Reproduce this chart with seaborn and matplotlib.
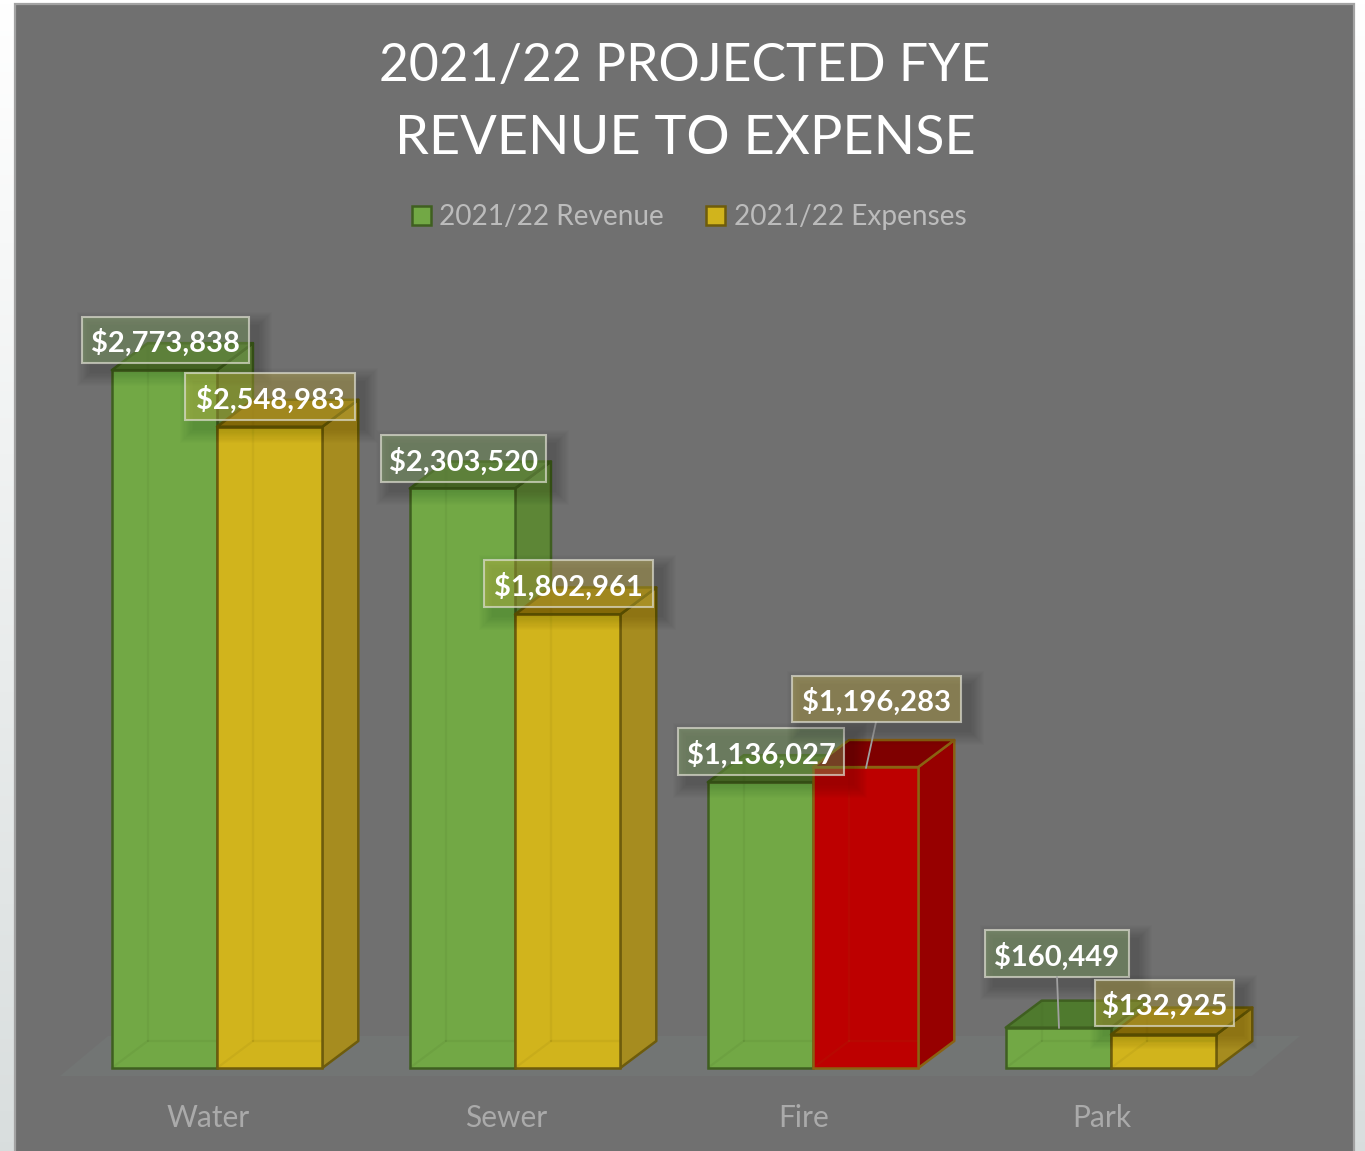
import numpy as np
import pandas as pd
import seaborn as sns
import matplotlib
matplotlib.use("Agg")
import matplotlib.pyplot as plt
from matplotlib.patches import Polygon, Rectangle, Patch
from matplotlib.lines import Line2D
from matplotlib.transforms import Affine2D, ScaledTranslation

departments = ["Water", "Sewer", "Fire", "Park"]
revenue = [2773838, 2303520, 1136027, 160449]
expenses = [2548983, 1802961, 1196283, 132925]
series_names = ["2021/22 Revenue", "2021/22 Expenses"]
title_lines = ["2021/22 PROJECTED FYE", "REVENUE TO EXPENSE"]

W, H = 1365, 1151
BASE_PX = 1068
DOLLARS_PER_PX = 3975
CAT0_PX, CAT_STEP = 217, 298
DEPTH = (36, -27)
FONT = ["Lato", "DejaVu Sans"]
PANEL = "#707070"

sns.set_theme(style="white")
plt.rcParams["font.family"] = FONT

fig = plt.figure(figsize=(W / 100, H / 100), dpi=100)
PX = Affine2D().scale(1 / W, -1 / H).translate(0, 1) + fig.transFigure

# page background and panel
bg = fig.add_axes([0, 0, 1, 1], zorder=-1)
bg.set_axis_off()
top_c = np.array([1.0, 1.0, 1.0])
bot_c = np.array([0.85, 0.87, 0.87])
ramp = np.linspace(0, 1, 256)[:, None, None]
bg.imshow(top_c * (1 - ramp) + bot_c * ramp, aspect="auto", extent=(0, 1, 0, 1))
bg.add_patch(Rectangle((15, 4), 1339, 1160, transform=PX, fc=PANEL, ec="#a3a3a3", lw=1.6))

ax = fig.add_axes([0, (H - BASE_PX) / H, 1, BASE_PX / H], zorder=1)
ax.patch.set_alpha(0)

df = pd.DataFrame({
    "Department": departments * 2,
    "Series": [series_names[0]] * 4 + [series_names[1]] * 4,
    "Amount": revenue + expenses,
})
GREEN, YELLOW, RED = "#72a845", "#d1b41c", "#bd0000"
sns.barplot(data=df, x="Department", y="Amount", hue="Series", hue_order=series_names,
            order=departments, palette=[GREEN, YELLOW], saturation=1, width=0.7067,
            gap=0, dodge=True, legend=False, ax=ax, errorbar=None)

ax.set_xlim(-CAT0_PX / CAT_STEP, (W - CAT0_PX) / CAT_STEP)
ax.set_ylim(0, BASE_PX * DOLLARS_PER_PX)
ax.set_xlabel("")
ax.set_ylabel("")
ax.set_yticks([])
sns.despine(ax=ax, left=True, right=True, top=True, bottom=True)
ax.tick_params(axis="x", length=0, pad=25.8, labelsize=21.5, labelcolor="#aaaaaa")
shift = ScaledTranslation(-9 / 100, 0, fig.dpi_scale_trans)
for lab in ax.get_xticklabels():
    lab.set_transform(lab.get_transform() + shift)

# floor
ax.add_patch(Polygon([(60, 1076), (1252, 1076), (1300, 1036), (108, 1036)], closed=True,
                     transform=PX, fc="#727574", ec="none", zorder=1, clip_on=False))

styles = {
    GREEN: dict(edge="#3f5f20", side="#5d8636", top="#4f7a2e"),
    YELLOW: dict(edge="#6e5c0c", side="#a68c1f", top="#9a8013"),
    RED: dict(edge="#8a6212", side="#970000", top="#7f0000"),
}


def to_px(x, y):
    dx, dy = ax.transData.transform((x, y))
    return dx * W / fig.bbox.width, H - dy * H / fig.bbox.height


fig.canvas.draw()
for s, cont in enumerate(ax.containers):
    for i, bar in enumerate(cont):
        col = GREEN if s == 0 else YELLOW
        if s == 1 and departments[i] == "Fire":
            col = RED
        st = styles[col]
        z = 2 + 2 * s
        x0, y1 = to_px(bar.get_x(), bar.get_height())
        x1, y0 = to_px(bar.get_x() + bar.get_width(), 0)
        dx, dy = DEPTH
        bar.set(facecolor=col, edgecolor=st["edge"], linewidth=1.8, zorder=z + 1, clip_on=False)
        for pts, fc in (([(x1, y1), (x1 + dx, y1 + dy), (x1 + dx, y0 + dy), (x1, y0)], st["side"]),
                        ([(x0, y1), (x1, y1), (x1 + dx, y1 + dy), (x0 + dx, y1 + dy)], st["top"])):
            ax.add_patch(Polygon(pts, closed=True, transform=PX, fc=fc, ec=st["edge"],
                                 lw=1.8, zorder=z, clip_on=False, joinstyle="round"))
        # faint hidden back edges seen through the front face
        for seg in ([(x0 + dx, y1 + dy), (x0 + dx, y0 + dy)],
                    [(x0, y0), (x0 + dx, y0 + dy)],
                    [(x0 + dx, y0 + dy), (x1, y0 + dy)]):
            ax.add_line(Line2D(*zip(*seg), transform=PX, color=st["edge"], alpha=0.09, lw=1.6,
                               zorder=z + 1.5, clip_on=False))

# data labels: (left, top, right, bottom) of each box in the picture
boxes_rev = [(82, 317, 249, 363), (381, 435, 546, 482), (678, 728, 844, 775), (985, 930, 1129, 977)]
boxes_exp = [(185, 373, 355, 420), (484, 560, 653, 607), (792, 676, 961, 722), (1095, 980, 1234, 1026)]
leaders = [((876, 722), (866, 768), 12), ((1057, 977), (1059, 1028), 12)]
for a, b, z in leaders:
    ax.add_line(Line2D([a[0], b[0]], [a[1], b[1]], transform=PX, color="#a0a0a0", lw=1.3,
                       zorder=z, clip_on=False))

z = 8
for values, boxes, col in ((revenue, boxes_rev, GREEN), (expenses, boxes_exp, YELLOW)):
    for v, (l, t, r, b) in zip(values, boxes):
        for k in range(12, 0, -1):
            ax.add_patch(Rectangle((l + 9 - k * 1.2, t + 9 - k * 1.2), r - l + k * 2.4, b - t + k * 2.4,
                                   transform=PX, fc="black", ec="none", alpha=0.012, zorder=z,
                                   clip_on=False))
        ax.add_patch(Rectangle((l, t), r - l, b - t, transform=PX, fc=col, ec="none", alpha=0.3,
                               zorder=z + 1, clip_on=False))
        ax.add_patch(Rectangle((l, t), r - l, b - t, transform=PX, fc=(1, 1, 1, 0.07),
                               ec=(0.87, 0.87, 0.82, 0.7), lw=1.5, zorder=z + 1, clip_on=False))
        ax.text((l + r) / 2, (t + b) / 2 + 3, f"${v:,.0f}", transform=PX, ha="center", va="center",
                color="white", fontsize=21, fontweight="bold", zorder=z + 2, clip_on=False)
    z += 5

# title
for line, yy, fs in zip(title_lines, (66, 138), (37.2, 39)):
    fig.text(685 / W, 1 - yy / H, line, ha="center", va="center", color="white", fontsize=fs,
             zorder=5)

# legend
handles = [Patch(fc=GREEN, ec=styles[GREEN]["edge"], lw=1.8, label=series_names[0]),
           Patch(fc=YELLOW, ec=styles[YELLOW]["edge"], lw=1.8, label=series_names[1])]
leg = ax.legend(handles=handles, ncol=2, frameon=False, loc="center",
                bbox_to_anchor=(689, 217), bbox_transform=PX, fontsize=20.2,
                labelcolor="#bcbcbc", handlelength=0.68, handleheight=0.68,
                handletextpad=0.3, columnspacing=1.5, borderpad=0, borderaxespad=0)
leg.set_zorder(6)

fig.savefig("out.png", dpi=100)
